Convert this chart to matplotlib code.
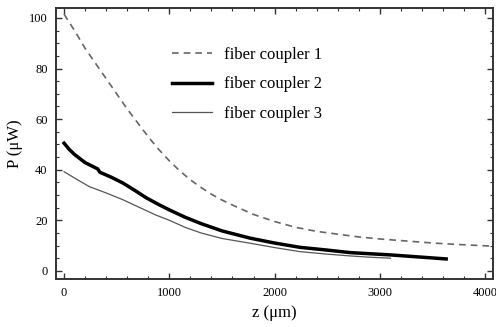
import numpy as np
import matplotlib
matplotlib.use('Agg')
import matplotlib.pyplot as plt
from matplotlib.ticker import MultipleLocator

plt.rcParams['font.family'] = ['Liberation Serif', 'DejaVu Serif']

# fiber coupler 1 (dashed)
z1 = [0, 100, 200, 300, 400, 500, 600, 700, 800, 900, 1000, 1100, 1200, 1300,
      1400, 1500, 1600, 1800, 2000, 2200, 2400, 2600, 2800, 3000, 3250, 3500,
      3750, 4000, 4075]
p1 = [101.5, 95, 88, 82, 76, 70, 64, 58.5, 53, 48, 43.5, 39.5, 36, 33,
      30.3, 28, 26, 22.3, 19.5, 17.2, 15.6, 14.5, 13.4, 12.6, 11.8, 11,
      10.4, 9.9, 9.8]

# fiber coupler 2 (thick)
z2 = [0, 50, 100, 200, 320, 340, 450, 560, 680, 780, 900, 1000, 1150, 1300,
      1500, 1770, 2000, 2240, 2500, 2720, 3100, 3400, 3630]
p2 = [50.5, 48.0, 46.0, 42.8, 40.3, 39.0, 37, 34.7, 31.6, 28.9, 26.2, 24.1,
      21.2, 18.7, 15.8, 12.9, 11, 9.3, 8.2, 7.2, 6.3, 5.4, 4.7]

# fiber coupler 3 (thin)
z3 = [0, 120, 240, 400, 560, 720, 870, 1000, 1150, 1300, 1500, 1770, 2000,
      2240, 2500, 2716, 2900, 3100]
p3 = [39.2, 36.2, 33.3, 30.8, 28.1, 25, 22.1, 20, 17.2, 15.0, 12.8, 10.9, 9.2,
      7.6, 6.6, 5.9, 5.4, 5.0]

fig = plt.figure(figsize=(4.96, 3.27), dpi=100)
ax = fig.add_axes([0.113, 0.147, 0.881, 0.829])

ax.plot(z1, p1, color='#666666', lw=1.2, dashes=(4, 3), label='fiber coupler 1')
ax.plot(z2, p2, color='black', lw=2.5, label='fiber coupler 2')
ax.plot(z3, p3, color='#555555', lw=0.9, label='fiber coupler 3')

ax.set_xlim(-76, 4075)
ax.set_ylim(-3.2, 104)
ax.xaxis.set_major_locator(MultipleLocator(1000))
ax.xaxis.set_minor_locator(MultipleLocator(200))
ax.yaxis.set_major_locator(MultipleLocator(20))
ax.yaxis.set_minor_locator(MultipleLocator(5))
ax.tick_params(which='both', direction='in', top=True, right=True,
               color='#333333', labelsize=9, pad=6)
ax.tick_params(which='major', length=4, width=1)
ax.tick_params(which='minor', length=2.5, width=0.8)
for s in ax.spines.values():
    s.set_color('#333333')
    s.set_linewidth(1.4)

ax.set_xlabel('z (μm)', fontsize=12, labelpad=4)
ax.set_ylabel('P (μW)', fontsize=12, labelpad=4)

ax.legend(loc='upper left', bbox_to_anchor=(0.265, 0.855), frameon=False,
          fontsize=12, handlelength=2.4, handletextpad=0.7, labelspacing=0.8,
          borderpad=0, borderaxespad=0)

fig.savefig('out.png', dpi=100)
